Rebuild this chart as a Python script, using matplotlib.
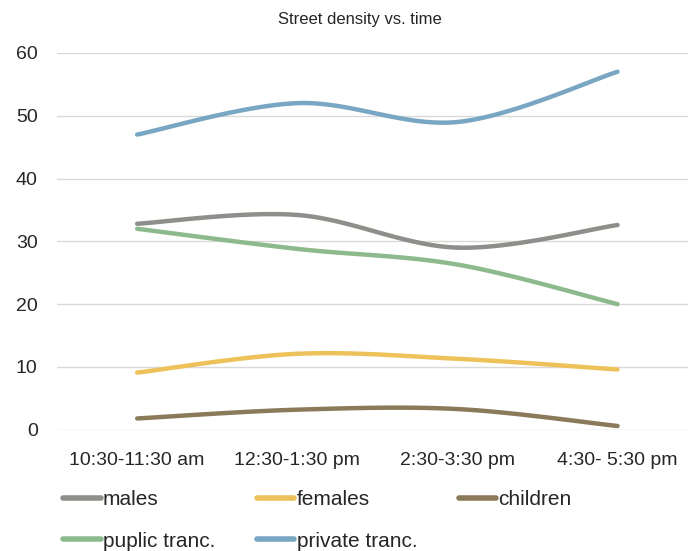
import numpy as np
import matplotlib
matplotlib.use('Agg')
import matplotlib.pyplot as plt

# dados
horarios = ['10:30-11:30 am', '12:30-1:30 pm', '2:30-3:30 pm', '4:30- 5:30 pm']
males = [32.8, 34.2, 29.0, 32.6]
females = [9.1, 12.1, 11.3, 9.6]
children = [1.8, 3.2, 3.3, 0.6]
puplic = [32.0, 28.8, 26.3, 20.0]
private = [47.0, 52.0, 49.0, 57.0]

series = [
    ('males', males, '#8e8e8a'),
    ('females', females, '#eec25a'),
    ('children', children, '#8a7a5a'),
    ('puplic tranc.', puplic, '#8dba8d'),
    ('private tranc.', private, '#79a6c3'),
]


def suavizar(y, n=40):
    # curva Catmull-Rom (parecida com a linha suavizada do Excel)
    y = np.asarray(y, dtype=float)
    x = np.arange(len(y), dtype=float)
    px = np.concatenate([[x[0]], x, [x[-1]]])
    py = np.concatenate([[y[0]], y, [y[-1]]])
    xs, ys = [], []
    for i in range(1, len(px) - 2):
        t = np.linspace(0, 1, n)
        for p, out in ((px, xs), (py, ys)):
            p0, p1, p2, p3 = p[i - 1], p[i], p[i + 1], p[i + 2]
            out.append(0.5 * ((2 * p1) + (-p0 + p2) * t
                              + (2 * p0 - 5 * p1 + 4 * p2 - p3) * t ** 2
                              + (-p0 + 3 * p1 - 3 * p2 + p3) * t ** 3))
    return np.concatenate(xs), np.concatenate(ys)


plt.rcParams['font.family'] = ['Liberation Sans', 'DejaVu Sans']

fig = plt.figure(figsize=(6.88, 5.51), dpi=100)
ax = fig.add_axes([0.083, 0.22, 0.917, 0.684])

linhas = {}
for nome, valores, cor in series:
    xs, ys = suavizar(valores)
    linha, = ax.plot(xs, ys, color=cor, linewidth=3.2, solid_capstyle='round', label=nome)
    linhas[nome] = linha

ax.set_ylim(0, 60)
ax.set_yticks(range(0, 61, 10))
ax.set_xlim(-0.5, 3.44)
ax.set_xticks(range(len(horarios)))
ax.set_xticklabels(horarios)
ax.tick_params(length=0, labelsize=14, colors='#262626')
ax.tick_params(axis='x', pad=16)
ax.tick_params(axis='y', pad=14)
ax.grid(axis='y', color='#d9d9d9', linewidth=1)
ax.set_axisbelow(True)
for s in ax.spines.values():
    s.set_visible(False)

fig.text(0.523, 0.965, 'Street density vs. time', ha='center', va='center',
         fontsize=12, color='#262626')

ordem = ['males', 'puplic tranc.', 'females', 'private tranc.', 'children']
fig.legend([linhas[n] for n in ordem], ordem, ncol=3, loc='upper left',
           bbox_to_anchor=(0.092, 0.111), frameon=False, fontsize=15,
           handlelength=1.8, handletextpad=0.1, columnspacing=2.0,
           labelspacing=1.1, borderaxespad=0, borderpad=0)
for t in fig.legends[0].get_texts():
    t.set_color('#262626')
for h in fig.legends[0].get_lines():
    h.set_linewidth(4)

fig.savefig('out.png', dpi=100)
